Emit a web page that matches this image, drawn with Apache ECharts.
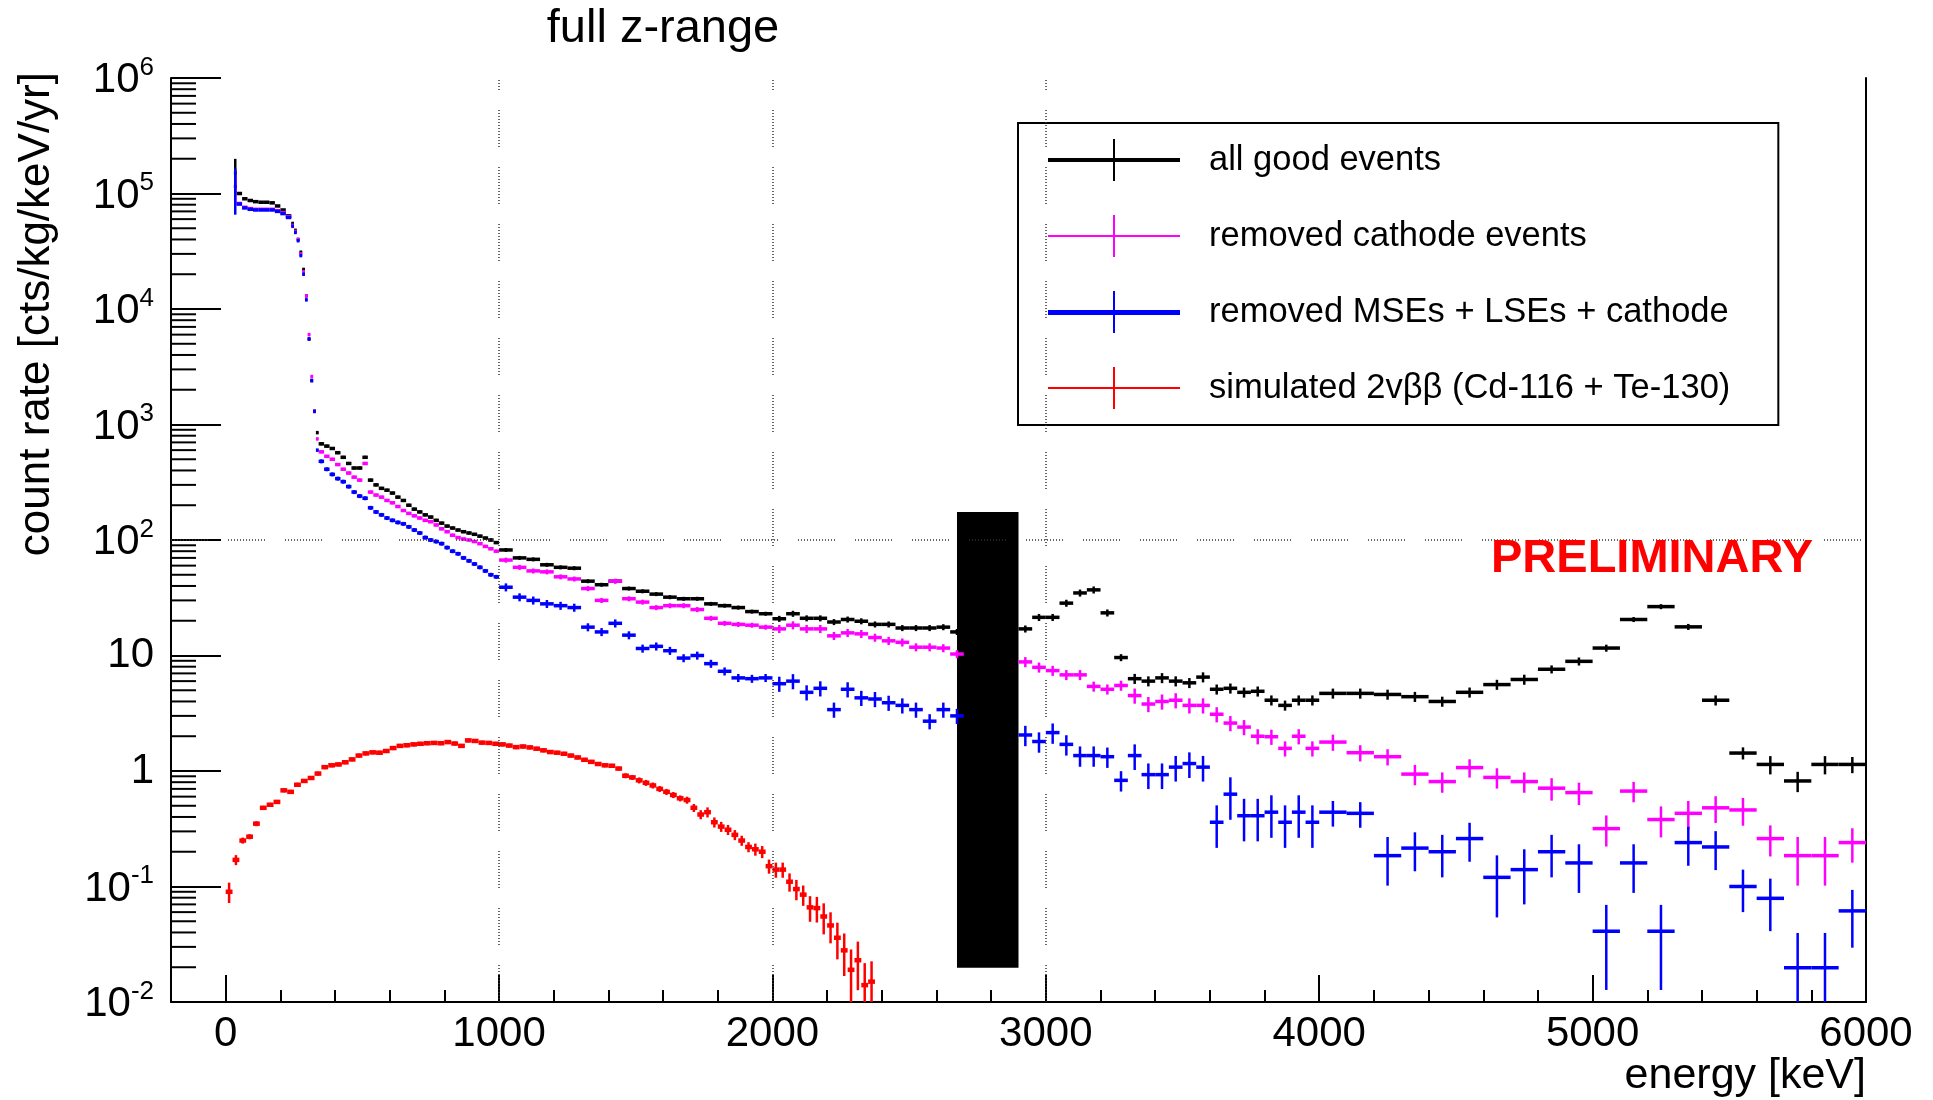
<!DOCTYPE html>
<html><head><meta charset="utf-8">
<script src="https://cdn.jsdelivr.net/npm/echarts@6/dist/echarts.min.js"></script>
<style>html,body{margin:0;padding:0;background:#fff}#c{width:1933px;height:1100px}</style>
</head><body><div id="c"></div>
<script>
const FONT = "'Liberation Sans', Arial, Helvetica, sans-serif";

// ---- histogram binning of the measured spectra: [from, to, binWidth] in keV
const dataBinSpec = [[30,40,10],[40,240,20],[240,340,10],[340,1000,20],[1000,4000,50],[4000,6000,100]];
// ---- simulated spectrum binning
const redBinSpec = [[0,2375,25]];

// ---- axis ticks / labels
const xMajorTicks = [0,1000,2000,3000,4000,5000,6000];
const xMinorTicks = [200,400,600,800,1200,1400,1600,1800,2200,2400,2600,2800,3200,3400,3600,3800,4200,4400,4600,4800,5200,5400,5600,5800];
const yDecades = [0.01,0.1,1,10,100,1000,10000,100000];
const yMinorMult = [2,3,4,5,6,7,8,9];

// ---- series names
const names = ['all good events','removed cathode events','removed MSEs + LSEs + cathode','simulated 2vββ (Cd-116 + Te-130)'];

// ---- all good events (cts/kg/keV/yr)
const blackV = [
 1.5e5,
 1.0e5, 9.0e4, 8.7e4, 8.5e4, 8.4e4, 8.4e4, 8.3e4, 7.8e4, 7.2e4, 6.4e4,
 5.5e4, 4.8e4, 4.0e4, 3.1e4, 2.2e4, 1.3e4, 5.5e3, 2.4e3, 1.3e3, 850,
 680, 650, 620, 570, 520, 460, 420, 420, 520, 330,
 300, 280, 270, 255, 235, 220, 200, 185, 175, 165,
 158, 148, 140, 132, 127, 122, 118, 115, 112, 108,
 104, 100, 95,
 82, 70, 68, 61, 58, 57, 44, 41, 44, 38,
 36, 34, 32, 31, 31, 28, 27, 26, 24, 23,
 20.8, 23, 21, 21, 19.5, 20.5, 19.8, 18.6, 18.6, 17.3, 17.3, 17.3, 17.6, 16,
 null, null, null, null,
 17, 21.4,
 21.4, 28.4, 34.8, 37, 23.4, 9.6, 6.3, 6.0, 6.4, 6.0,
 5.8, 6.5, 5.1, 5.2, 4.8, 4.9, 4.1, 3.7, 4.1, 4.1,
 4.7, 4.7, 4.6, 4.4, 4.0, 4.8, 5.6, 6.2, 7.6, 8.9,
 11.6, 20.5, 26.5, 17.7, 4.1, 1.43, 1.14, 0.82, 1.14, 1.14
];
const blackErr = [
 0.33,
 0.02,0.02,0.02,0.02,0.02,0.02,0.02,0.02,0.02,0.02,
 0.02,0.02,0.02,0.02,0.02,0.02,0.02,0.02,0.02,0.02,
 0.03,0.03,0.03,0.03,0.03,0.03,0.03,0.03,0.03,0.03,
 0.03,0.03,0.03,0.03,0.03,0.03,0.03,0.03,0.03,0.03,
 0.03,0.03,0.03,0.03,0.03,0.03,0.03,0.03,0.03,0.03,
 0.03,0.03,0.03,
 0.04,0.04,0.04,0.04,0.04,0.04,0.04,0.04,0.04,0.04,
 0.04,0.04,0.04,0.04,0.04,0.04,0.04,0.04,0.04,0.04,
 0.06,0.06,0.06,0.06,0.06,0.06,0.06,0.06,0.06,0.06,0.06,0.06,0.06,0.06,
 0,0,0,0,
 0.07,0.07,
 0.07,0.07,0.07,0.07,0.07,0.07,0.1,0.1,0.1,0.1,
 0.1,0.1,0.1,0.1,0.1,0.1,0.1,0.1,0.1,0.1,
 0.1,0.1,0.1,0.1,0.1,0.1,0.1,0.1,0.08,0.08,
 0.07,0.05,0.05,0.06,0.1,0.12,0.18,0.2,0.18,0.16
];

// ---- removed cathode events
const pinkV = [
 1.15e5,
 8.2e4, 7.6e4, 7.4e4, 7.3e4, 7.3e4, 7.3e4, 7.3e4, 7.1e4, 6.8e4, 6.3e4,
 5.3e4, 4.7e4, 4.0e4, 3.0e4, 2.1e4, 1.3e4, 6.0e3, 2.6e3, 1.3e3, 750,
 580, 530, 500, 450, 410, 380, 350, 330, 460, 260,
 245, 235, 220, 210, 195, 180, 170, 162, 155, 148,
 144, 135, 125, 118, 110, 105, 102, 100, 97, 93,
 88, 84, 80,
 67, 58, 54, 53, 48, 46, 38, 30, 44, 31,
 29, 26, 27, 27, 25, 21, 19, 18.6, 18.3, 17.6,
 17.0, 18.3, 17, 17, 14.8, 15.7, 15.4, 14.3, 13.4, 13, 11.8, 11.8, 11.6, 10.3,
 null, null, null, null,
 8.8, 7.9,
 7.4, 6.8, 6.8, 5.4, 5.1, 5.5, 4.5, 3.8, 4.0, 4.1,
 3.7, 3.7, 3.1, 2.6, 2.4, 2.0, 1.98, 1.57, 2.0, 1.57,
 1.78, 1.44, 1.33, 0.94, 0.81, 1.07, 0.88, 0.81, 0.71, 0.65,
 0.317, 0.67, 0.38, 0.43, 0.48, 0.46, 0.26, 0.185, 0.185, 0.24
];
const pinkErr = [
 0.3,
 0.02,0.02,0.02,0.02,0.02,0.02,0.02,0.02,0.02,0.02,
 0.02,0.02,0.02,0.02,0.02,0.02,0.02,0.02,0.02,0.02,
 0.03,0.03,0.03,0.03,0.03,0.03,0.03,0.03,0.03,0.03,
 0.03,0.03,0.03,0.03,0.03,0.03,0.03,0.03,0.03,0.03,
 0.03,0.03,0.03,0.03,0.03,0.03,0.03,0.03,0.03,0.03,
 0.03,0.03,0.03,
 0.05,0.05,0.05,0.05,0.05,0.05,0.05,0.05,0.05,0.05,
 0.05,0.05,0.05,0.05,0.05,0.05,0.05,0.05,0.05,0.05,
 0.08,0.08,0.08,0.08,0.08,0.08,0.08,0.08,0.08,0.08,0.08,0.08,0.08,0.08,
 0,0,0,0,
 0.1,0.1,
 0.1,0.1,0.1,0.1,0.1,0.1,0.15,0.15,0.15,0.15,
 0.15,0.15,0.15,0.15,0.15,0.15,0.15,0.15,0.15,0.15,
 0.16,0.16,0.16,0.2,0.2,0.18,0.2,0.2,0.22,0.22,
 0.3,0.2,0.3,0.28,0.26,0.27,0.3,0.45,0.45,0.33
];

// ---- removed MSEs + LSEs + cathode
const blueV = [
 1.15e5,
 8.1e4, 7.5e4, 7.3e4, 7.2e4, 7.2e4, 7.2e4, 7.2e4, 7.0e4, 6.7e4, 6.2e4,
 5.2e4, 4.6e4, 3.9e4, 2.9e4, 2.0e4, 1.2e4, 5.5e3, 2.4e3, 1.3e3, 600,
 480, 410, 370, 340, 320, 290, 260, 240, 230, 190,
 175, 165, 155, 148, 142, 138, 130, 122, 115, 105,
 100, 97, 93, 86, 80, 76, 70, 66, 62, 58,
 54, 50, 48,
 39, 32, 30, 28, 27, 26, 17.6, 16, 19, 15,
 11.5, 12, 11, 9.5, 10, 8.5, 7.3, 6.4, 6.3, 6.4,
 5.7, 6.0, 4.8, 5.2, 3.4, 5.1, 4.3, 4.2, 3.9, 3.7, 3.4, 2.7, 3.4, 3.0,
 null, null, null, null,
 2.05, 1.8,
 2.15, 1.7, 1.36, 1.36, 1.33, 0.83, 1.36, 0.93, 0.93, 1.08,
 1.16, 1.08, 0.36, 0.63, 0.41, 0.41, 0.44, 0.36, 0.44, 0.36,
 0.44, 0.43, 0.185, 0.215, 0.20, 0.26, 0.12, 0.14, 0.20, 0.16,
 0.041, 0.16, 0.041, 0.24, 0.22, 0.10, 0.079, 0.0198, 0.0198, 0.0615
];
const blueErr = [
 0.43,
 0.02,0.02,0.02,0.02,0.02,0.02,0.02,0.02,0.02,0.02,
 0.02,0.02,0.02,0.02,0.02,0.02,0.02,0.02,0.02,0.02,
 0.04,0.04,0.04,0.04,0.04,0.04,0.04,0.04,0.04,0.04,
 0.04,0.04,0.04,0.04,0.04,0.04,0.04,0.04,0.04,0.04,
 0.04,0.04,0.04,0.04,0.04,0.04,0.04,0.04,0.04,0.04,
 0.04,0.04,0.04,
 0.08,0.08,0.08,0.08,0.08,0.08,0.08,0.08,0.08,0.08,
 0.08,0.08,0.08,0.08,0.08,0.08,0.08,0.08,0.08,0.08,
 0.15,0.15,0.15,0.15,0.15,0.15,0.15,0.15,0.15,0.15,0.15,0.15,0.15,0.15,
 0,0,0,0,
 0.2,0.2,
 0.2,0.2,0.2,0.2,0.2,0.2,0.25,0.25,0.25,0.25,
 0.25,0.25,0.4,0.4,0.4,0.4,0.4,0.4,0.4,0.4,
 0.25,0.25,0.45,0.37,0.4,0.37,0.55,0.5,0.4,0.45,
 0.69,0.45,0.69,0.37,0.37,0.4,0.48,1.0,1.0,0.52
];

// ---- simulated 2vbb spectrum
const redV = [
 0.09, 0.17, 0.25, 0.27, 0.35, 0.48, 0.51, 0.54, 0.68, 0.66,
 0.76, 0.82, 0.87, 0.95, 1.08, 1.12, 1.14, 1.19, 1.26, 1.36,
 1.42, 1.45, 1.44, 1.49, 1.58, 1.65, 1.67, 1.70, 1.72, 1.74,
 1.75, 1.74, 1.78, 1.73, 1.65, 1.84, 1.82, 1.76, 1.75, 1.72,
 1.70, 1.66, 1.61, 1.63, 1.60, 1.56, 1.51, 1.46, 1.44, 1.41,
 1.36, 1.31, 1.25, 1.20, 1.15, 1.12, 1.11, 1.05, 0.91, 0.88,
 0.83, 0.79, 0.75, 0.70, 0.66, 0.62, 0.58, 0.56, 0.48, 0.42,
 0.44, 0.36, 0.33, 0.31, 0.28, 0.25, 0.22, 0.21, 0.20, 0.15,
 0.14, 0.14, 0.11, 0.095, 0.085, 0.066, 0.065, 0.055, 0.046, 0.036,
 0.028, 0.019, 0.023, 0.014, 0.015
];
const redErr = [
 0.2, 0.1, 0.06, 0.05, 0.05, 0.04, 0.04, 0.04, 0.04, 0.04,
 0.04, 0.04, 0.04, 0.04, 0.04, 0.04, 0.04, 0.04, 0.04, 0.04,
 0.04, 0.04, 0.04, 0.04, 0.04, 0.04, 0.04, 0.04, 0.04, 0.04,
 0.04, 0.04, 0.04, 0.04, 0.04, 0.04, 0.04, 0.04, 0.04, 0.04,
 0.04, 0.04, 0.04, 0.04, 0.04, 0.04, 0.04, 0.04, 0.04, 0.04,
 0.04, 0.04, 0.04, 0.04, 0.04, 0.04, 0.04, 0.04, 0.05, 0.05,
 0.06, 0.06, 0.06, 0.06, 0.06, 0.06, 0.06, 0.07, 0.08, 0.09,
 0.1, 0.1, 0.1, 0.1, 0.1, 0.1, 0.1, 0.12, 0.12, 0.14,
 0.15, 0.15, 0.18, 0.2, 0.2, 0.25, 0.25, 0.3, 0.3, 0.35,
 0.4, 0.5, 0.45, 0.55, 0.5
];

// ---- reference lines and the masked region
const vLineE = [1000, 2000, 3000];
const hLineV = [100];
const maskE = [2675, 2900];
const maskV = [0.0198, 175];

// ---------------------------------------------------------------
function binsFromSpec(spec){
  const bins = [];
  spec.forEach(([a, b, w]) => { for (let lo = a; lo < b - 1e-9; lo += w) bins.push([lo, lo + w]); });
  return bins;
}
const dataBins = binsFromSpec(dataBinSpec);
const redBins = binsFromSpec(redBinSpec);
[blackV, blackErr, pinkV, pinkErr, blueV, blueErr].forEach((a, i) => {
  if (a.length !== dataBins.length) throw new Error('length mismatch data array ' + i + ': ' + a.length + ' vs ' + dataBins.length);
});
if (redV.length !== redBins.length || redErr.length !== redBins.length) throw new Error('red length mismatch');

function histData(bins, vals, errs){
  const out = [];
  bins.forEach((b, i) => {
    if (vals[i] == null) return;
    out.push([(b[0] + b[1]) / 2, (b[1] - b[0]) / 2, vals[i], errs[i]]);
  });
  return out;
}

const YMIN = 0.01, YMAX = 1e6, XMIN = -200, XMAX = 6000;

function crossSeries(name, color, data, hW, vW){
  return {
    name, type: 'custom', coordinateSystem: 'cartesian2d',
    xAxisIndex: 0, yAxisIndex: 0, data, clip: true, silent: true,
    encode: { x: 0, y: 2 },
    itemStyle: { color },
    renderItem(params, api){
      const e = api.value(0), hw = api.value(1), v = api.value(2), f = api.value(3);
      const s = v * f;
      const lo = Math.max(v - s, YMIN), hi = Math.min(v + s, YMAX);
      const pL = api.coord([e - hw, v]), pR = api.coord([e + hw, v]);
      const pT = api.coord([e, hi]), pB = api.coord([e, lo]);
      return { type: 'group', children: [
        { type: 'line', shape: { x1: pL[0], y1: pL[1], x2: pR[0], y2: pR[1] }, style: { stroke: color, lineWidth: hW } },
        { type: 'line', shape: { x1: pT[0], y1: pT[1], x2: pB[0], y2: pB[1] }, style: { stroke: color, lineWidth: vW } }
      ]};
    }
  };
}

const yMinorTicks = [];
yDecades.forEach(d => yMinorMult.forEach(m => yMinorTicks.push([XMIN, d * m])));

const DOTS = [1,2,1,2,1,2,1,2,1,2,1,2,1,2,1,2,1,2,1,2,1,2,1,2,1,20];

const chart = echarts.init(document.getElementById('c'), null, { renderer: 'canvas' });
const option = {
  animation: false,
  backgroundColor: '#fff',
  textStyle: { fontFamily: FONT },
  grid: { left: 171, right: 67, top: 78, bottom: 98, containLabel: false },
  legend: {
    orient: 'vertical', left: 1018, top: 123,
    itemWidth: 132, itemHeight: 42, itemGap: 34,
    padding: [16, 48, 16, 30],
    backgroundColor: '#fff', borderColor: '#000', borderWidth: 2,
    selectedMode: false,
    textStyle: { fontSize: 34.5, color: '#000', fontFamily: FONT, padding: [0, 0, 0, 24] },
    data: [
      { name: names[0], icon: 'path://M0,19h132v4H0zM65,0h2v42h-2z' },
      { name: names[1], icon: 'path://M0,20h132v2H0zM65,0h2v42h-2z' },
      { name: names[2], icon: 'path://M0,19h132v5H0zM65,0h2v42h-2z' },
      { name: names[3], icon: 'path://M0,20h132v2H0zM65,0h2v42h-2z' }
    ]
  },
  xAxis: [
    {
      type: 'value', min: XMIN, max: XMAX, position: 'bottom',
      axisLine: { show: true, onZero: false, lineStyle: { color: '#000', width: 2 } },
      axisTick: { show: true, inside: true, length: 27, customValues: xMajorTicks, lineStyle: { color: '#000', width: 2 } },
      axisLabel: { show: true, customValues: xMajorTicks, margin: 11, fontSize: 42, color: '#000', fontFamily: FONT, formatter: (v) => String(v) },
      splitLine: { show: false }
    },
    {
      type: 'value', min: XMIN, max: XMAX, position: 'bottom',
      axisLine: { show: false },
      axisTick: { show: true, inside: true, length: 12, customValues: xMinorTicks, lineStyle: { color: '#000', width: 2 } },
      axisLabel: { show: false },
      splitLine: { show: false }
    }
  ],
  yAxis: [
    {
      type: 'log', logBase: 10, min: YMIN, max: YMAX, interval: 1, position: 'left',
      axisLine: { show: true, onZero: false, lineStyle: { color: '#000', width: 2 } },
      axisTick: { show: true, inside: true, length: 50, lineStyle: { color: '#000', width: 2 } },
      axisLabel: {
        show: true, margin: 17,
        formatter: (v) => {
          const e = Math.round(Math.log10(v));
          if (e === 0) return '{n|1}';
          if (e === 1) return '{n|10}';
          return '{h| }{n|10}{s|' + e + '}';
        },
        rich: {
          h: { fontSize: 1, lineHeight: 47 },
          n: { fontSize: 42, lineHeight: 42, verticalAlign: 'bottom', color: '#000', fontFamily: FONT },
          s: { fontSize: 26, lineHeight: 25, verticalAlign: 'top', color: '#000', fontFamily: FONT }
        }
      },
      splitLine: { show: false }
    },
    {
      type: 'log', logBase: 10, min: YMIN, max: YMAX, position: 'right',
      axisLine: { show: true, onZero: false, lineStyle: { color: '#000', width: 2 } },
      axisTick: { show: false }, axisLabel: { show: false }, splitLine: { show: false }
    }
  ],
  graphic: [
    { type: 'text', x: 663, y: 29, z: 100, style: { text: 'full z-range', fontSize: 47, fontFamily: FONT, fill: '#000', align: 'center', verticalAlign: 'middle' } },
    { type: 'text', x: 37, y: 72, rotation: Math.PI / 2, z: 100, style: { text: 'count rate [cts/kg/keV/yr]', fontSize: 44, fontFamily: FONT, fill: '#000', align: 'right', verticalAlign: 'middle' } },
    { type: 'text', x: 1866, y: 1076, z: 100, style: { text: 'energy [keV]', fontSize: 43, fontFamily: FONT, fill: '#000', align: 'right', verticalAlign: 'middle' } },
    { type: 'text', x: 1491, y: 559, z: 100, style: { text: 'PRELIMINARY', fontSize: 47, fontWeight: 'bold', fontFamily: FONT, fill: '#ff0000', align: 'left', verticalAlign: 'middle' } }
  ],
  series: [
    {
      name: 'reference lines', type: 'line', data: [], z: 1, silent: true,
      markLine: {
        silent: true, symbol: 'none', label: { show: false },
        lineStyle: { color: '#333', width: 1.5, type: DOTS },
        data: [
          ...vLineE.map(e => [{ coord: [e, YMIN] }, { coord: [e, YMAX] }]),
          ...hLineV.map(v => ({ yAxis: v }))
        ]
      }
    },
    {
      name: 'y minor ticks', type: 'custom', coordinateSystem: 'cartesian2d', data: yMinorTicks, clip: false, silent: true, z: 3,
      encode: { x: 0, y: 1 },
      renderItem(params, api){
        const p = api.coord([api.value(0), api.value(1)]);
        return { type: 'line', shape: { x1: p[0], y1: p[1], x2: p[0] + 25, y2: p[1] }, style: { stroke: '#000', lineWidth: 2 } };
      }
    },
    crossSeries(names[0], '#000000', histData(dataBins, blackV, blackErr), 3.5, 2.5),
    crossSeries(names[1], '#ff00ff', histData(dataBins, pinkV, pinkErr), 3.5, 2.5),
    crossSeries(names[2], '#0000ff', histData(dataBins, blueV, blueErr), 3.5, 2.5),
    crossSeries(names[3], '#ff0000', histData(redBins, redV, redErr), 4.5, 2.5),
    {
      name: 'mask', type: 'line', data: [], z: 10, silent: true,
      markArea: {
        silent: true, itemStyle: { color: '#000', opacity: 1 },
        data: [[{ coord: [maskE[0], maskV[0]] }, { coord: [maskE[1], maskV[1]] }]]
      }
    }
  ]
};
chart.setOption(option);
</script>
</body></html>
